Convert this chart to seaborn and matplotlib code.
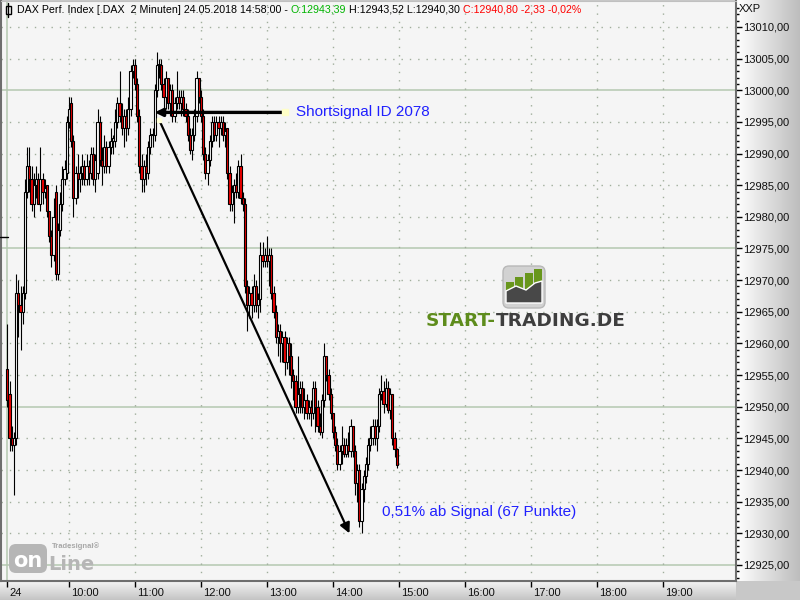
import matplotlib
matplotlib.use("Agg")
import numpy as np
import pandas as pd
import matplotlib.pyplot as plt
import seaborn as sns
from matplotlib.patches import Rectangle, FancyBboxPatch, Polygon
from matplotlib.colors import LinearSegmentedColormap
from matplotlib.transforms import ScaledTranslation

# ------------------------------------------------------------
# Daten: DAX 2-Minuten-Kerzen, 24.05.2018
# ------------------------------------------------------------
bar_open = [
    12956, 12952, 12945, 12944, 12945, 12968, 12966, 12965, 12968, 12984,
    12988, 12986, 12982, 12985, 12986, 12982, 12986, 12984, 12985, 12981,
    12977, 12974, 12984, 12971, 12978, 12982, 12986, 12987, 12995, 12998,
    12992, 12983, 12987, 12986, 12987, 12988, 12986, 12988, 12987, 12990,
    12986, 12987, 12995, 12989, 12988, 12991, 12988, 12991, 12992, 12992,
    12995, 12998, 12996, 12994, 12996, 12994, 12997, 13003, 13004, 13001,
    12996, 12988, 12986, 12988, 12987, 12991, 12993, 12993, 13000, 13004,
    13004, 13001, 12999, 13002, 12998, 13000, 12996, 12998, 12999, 12998,
    12999, 12997, 12996, 12993, 12990.5, 12993, 12996, 13002, 12999, 12996,
    12990, 12987, 12989, 12992, 12995, 12993, 12995, 12994, 12995, 12993,
    12994, 12987, 12982, 12984, 12985, 12984, 12988, 12983, 12982, 12969,
    12966, 12968, 12966, 12969, 12966, 12967, 12974, 12973, 12974, 12973,
    12974, 12968, 12965, 12961, 12962, 12960, 12961, 12957, 12960, 12958,
    12955, 12954, 12950, 12952, 12953, 12950, 12951, 12949, 12950, 12949,
    12953, 12950, 12947, 12946, 12951, 12958, 12955, 12952, 12949, 12946,
    12944, 12941, 12943, 12944, 12942.5, 12944, 12943, 12947, 12943, 12938,
    12940, 12932, 12937, 12939, 12941, 12944, 12945, 12947, 12945, 12947,
    12952, 12952.5, 12950.5, 12953, 12949.5, 12952, 12945, 12943.39,
]
bar_high = [
    12963, 12954, 12947, 12946, 12971, 12970, 12969, 12969, 12986, 12991,
    12991, 12988, 12987, 12988, 12987, 12991, 12987, 12986, 12985, 12981,
    12978, 12983, 12985, 12979, 12984, 12988, 12989, 12996, 12999, 12999,
    12993, 12988, 12990, 12988, 12990, 12989, 12990, 12989, 12991, 12991,
    12990, 12997, 12996, 12991, 12993, 12992, 12992, 12994, 12993, 12997,
    12999, 13003, 12998, 12997, 12997, 12999, 13004, 13005, 13005, 13002,
    12997, 12990, 12989, 12990, 12992, 12994, 12994, 13001, 13006, 13005,
    13005, 13002, 13003, 13002, 13001, 13001, 12999, 13003, 13000, 13000,
    13000, 12998, 12997, 12994, 12994, 12997, 13003, 13002, 13000, 12997,
    12991, 12990, 12993, 12996, 12996, 12996, 12996, 12996, 12996, 12995,
    12994, 12988, 12985, 12986, 12987, 12989, 12990, 12984, 12983, 12970,
    12969, 12969, 12971, 12970, 12968, 12976, 12976, 12975, 12977, 12975,
    12975, 12969, 12966, 12963, 12963, 12962, 12962, 12961, 12961, 12960,
    12956, 12955, 12958, 12954, 12954, 12953, 12952, 12951, 12951, 12954,
    12954, 12951, 12949, 12952, 12960, 12958, 12956, 12953, 12949, 12947,
    12945, 12944, 12947, 12945, 12945, 12946, 12948, 12947, 12944, 12941,
    12941, 12938, 12940, 12942, 12945, 12947, 12948, 12948, 12948, 12953,
    12955, 12954, 12954.5, 12954, 12953, 12952, 12946, 12943.52,
]
bar_low = [
    12950, 12943, 12943, 12936, 12944, 12961, 12959, 12963, 12967, 12983,
    12984, 12981, 12980, 12983, 12982, 12981, 12982, 12983, 12980, 12976,
    12972, 12973, 12970, 12970, 12977, 12981, 12985, 12986, 12994, 12991,
    12980, 12982, 12983, 12984, 12985, 12985, 12985, 12985, 12986, 12985,
    12984, 12986, 12988, 12985, 12987, 12987, 12987, 12990, 12990, 12991,
    12994, 12995, 12993, 12991, 12992, 12993, 12996, 13002, 13000, 12995,
    12987, 12984, 12984, 12985, 12986, 12990, 12991, 12992, 12999, 13002,
    13000, 12997, 12997, 12997, 12996, 12995, 12995, 12997, 12997, 12996,
    12996, 12995, 12992, 12990, 12989, 12992, 12995, 12998, 12995, 12989,
    12986, 12985, 12988, 12991, 12992, 12992, 12991, 12993, 12992, 12991,
    12986, 12981, 12981, 12979, 12983, 12983, 12982, 12981, 12968, 12962,
    12964, 12964, 12965, 12965, 12964, 12965, 12972, 12972, 12972, 12969,
    12967, 12964, 12960, 12958, 12957, 12957, 12955, 12956, 12955, 12953,
    12951, 12949, 12949, 12949, 12949, 12948, 12948, 12948, 12947, 12948,
    12946, 12946, 12945.5, 12945, 12950, 12954, 12951, 12948, 12945, 12943,
    12940, 12940, 12941, 12942, 12942, 12942, 12942, 12942, 12936, 12935,
    12931, 12930, 12935, 12938, 12940, 12943, 12944, 12944, 12943, 12946,
    12951, 12949, 12950, 12949, 12948, 12944, 12942, 12940.30,
]
bar_close = [
    12951, 12945, 12944, 12945, 12968, 12966, 12965, 12968, 12984, 12988,
    12986, 12982, 12985, 12986, 12982, 12986, 12984, 12984.5, 12981, 12977,
    12974, 12980, 12971, 12978, 12982, 12986, 12987.5, 12995, 12997, 12992,
    12983, 12987, 12986, 12987, 12988, 12986, 12988, 12987, 12990, 12986,
    12989, 12995, 12989, 12988, 12991, 12988, 12991, 12992, 12992.5, 12995,
    12998, 12996, 12994, 12996, 12994, 12997, 13003, 13004, 13001, 12996,
    12988, 12986, 12988, 12987, 12991, 12993, 12993, 13000, 13004, 13004,
    13001, 12999, 13002, 12998, 13000, 12996, 12998, 12999, 12998, 12999,
    12997, 12996, 12993, 12990.5, 12993, 12996, 13002, 12999, 12996, 12990,
    12987, 12989, 12992, 12995, 12993, 12995, 12994, 12995, 12993, 12993.5,
    12987, 12982, 12984, 12985, 12984, 12988, 12983, 12982, 12969, 12966,
    12968, 12966, 12969, 12966, 12967, 12974, 12973, 12974, 12973, 12974,
    12968, 12965, 12961, 12962, 12960, 12961, 12957, 12960, 12958, 12955,
    12954, 12950, 12952, 12953, 12950, 12951, 12949, 12950, 12949, 12953,
    12950, 12947, 12946, 12951, 12958, 12955, 12952, 12949, 12946, 12944,
    12941, 12943, 12944, 12942.5, 12944, 12943, 12947, 12943, 12938, 12940,
    12932, 12937, 12939, 12941, 12944, 12945, 12947, 12945, 12947, 12952,
    12952.5, 12950.5, 12953, 12949.5, 12952, 12945, 12943.4, 12940.80,
]
bar_time = pd.date_range("2018-05-24 09:04", periods=len(bar_close), freq="2min")

price_ticks = list(range(12925, 13011, 5))
hour_labels = ["10:00", "11:00", "12:00", "13:00", "14:00", "15:00",
               "16:00", "17:00", "18:00", "19:00"]
day_label = "24"

# Signal-Annotation
signal_time = "11:18"
signal_line_end = "13:16"
signal_text_time = "13:26"
signal_price = 12996.5
target_time = "14:15"
target_price = 12930.0
result_time = "14:45"
result_price = 12933.3
signal_text = "Shortsignal ID 2078"
result_text = "0,51% ab Signal (67 Punkte)"

title_parts = [
    ("DAX Perf. Index [.DAX  2 Minuten] 24.05.2018 14:58:00 - ", "black"),
    ("O:12943,39", "#00b400"),
    (" H:12943,52 L:12940,30 ", "black"),
    ("C:12940,80 -2,33 -0,02%", "#ff0000"),
]

# ------------------------------------------------------------
# Hilfsfunktionen
# ------------------------------------------------------------
day0 = pd.Timestamp("2018-05-24 09:00")


def to_min(t):
    if isinstance(t, str):
        t = pd.Timestamp("2018-05-24 " + t)
    return (t - day0).total_seconds() / 60.0


df = pd.DataFrame({"time": bar_time, "open": bar_open, "high": bar_high,
                   "low": bar_low, "close": bar_close})
df["x"] = [to_min(t) for t in df["time"]]

sns.set_theme(style="white")
plt.rcParams["font.family"] = ["Liberation Sans", "DejaVu Sans"]

W, H = 800, 600
fig = plt.figure(figsize=(8, 6), dpi=100)
fig.patch.set_facecolor("#c8c8c8")


def box(l, t, r, b):
    return [l / W, 1 - b / H, (r - l) / W, (b - t) / H]


# Hintergrund-Leisten (Preisachse rechts, Zeitachse unten)
ax_r = fig.add_axes(box(736, 0, 800, 581))
ax_r.imshow(np.linspace(0, 1, 256).reshape(1, -1), aspect="auto",
            cmap=LinearSegmentedColormap.from_list("r", ["#ffffff", "#bdbdbd"]))
ax_r.axis("off")
ax_b = fig.add_axes(box(0, 581, 736, 600))
ax_b.imshow(np.linspace(0, 1, 64).reshape(-1, 1), aspect="auto",
            cmap=LinearSegmentedColormap.from_list("b", ["#f4f4f4", "#c4c4c4"]))
ax_b.axis("off")

# ------------------------------------------------------------
# Hauptchart
# ------------------------------------------------------------
ax = fig.add_axes(box(1, 1, 736, 581))
ax.set_facecolor("#f5f5f5")
ax.set_xlim(-1.8, 666.4)
ax.set_ylim(12922.47, 13014.1)

for p in price_ticks:
    if p % 25 == 0:
        ax.axhline(p, color="#b4c8b0", lw=1.1, zorder=1)
    else:
        ax.axhline(p, color="#a0ae9c", lw=1, ls=(0, (1, 5)), zorder=1)
hour_pos = [to_min(h) for h in hour_labels]
for xm in hour_pos:
    ax.axvline(xm, color="#a0ae9c", lw=1, ls=(0, (1, 5)), zorder=1)
ax.axvline(df["x"].iloc[0], color="#b4c8b0", lw=1.1, zorder=1)

# Kerzen
up = df["close"] >= df["open"]
body_col = np.where(up, "white", "#ee0000")
body_h = (df["close"] - df["open"]).abs().clip(lower=0.15)
body_b = df[["open", "close"]].min(axis=1)
ax.vlines(df["x"], df["low"], df["high"], color="black", lw=0.8, zorder=3)
ax.bar(df["x"], body_h, bottom=body_b, width=2.0, color=body_col,
       edgecolor="black", linewidth=0.8, zorder=4)

# Preisachse rechts
ax.yaxis.tick_right()
ax.set_yticks(price_ticks)
ax.set_yticklabels([f"{p:.2f}".replace(".", ",") for p in price_ticks])
ax.set_yticks(range(12923, 13014), minor=True)
ax.tick_params(axis="y", which="major", length=4, width=1, color="black",
               pad=1, labelsize=8, labelcolor="#101010", right=True)
ax.tick_params(axis="y", which="minor", length=2, width=1, color="black", right=True)

# Zeitachse
ax.set_xticks([df["x"].iloc[0]] + hour_pos)
ax.set_xticklabels([day_label] + hour_labels)
ax.tick_params(axis="x", which="major", length=4, width=1, color="black",
               pad=1, labelsize=8, labelcolor="#101010", bottom=True)
for lab in ax.get_xticklabels():
    lab.set_horizontalalignment("left")
    lab.set_transform(lab.get_transform() + ScaledTranslation(1.5 / 72, 0, fig.dpi_scale_trans))

for side in ["left", "bottom", "right"]:
    ax.spines[side].set_color("#6e6e6e")
    ax.spines[side].set_linewidth(1.5)
ax.spines["top"].set_color("#c0c0c0")
ax.spines["top"].set_linewidth(0.8)

# Signal-Pfeile
diag_start = (to_min(signal_time) + 4, signal_price - 1.2)
ax.annotate("", xy=(to_min(signal_time), signal_price),
            xytext=(to_min(signal_line_end), signal_price),
            arrowprops=dict(arrowstyle="-|>", color="black", lw=2.4,
                            mutation_scale=11, shrinkA=0, shrinkB=0), zorder=6)
ax.annotate("", xy=(to_min(target_time), target_price), xytext=diag_start,
            arrowprops=dict(arrowstyle="-|>", color="black", lw=1.6,
                            mutation_scale=15, shrinkA=0, shrinkB=0), zorder=6)
ax.plot([to_min(signal_line_end)], [signal_price], "s", ms=5,
        color="#ffffc8", zorder=7)
ax.plot([diag_start[0]], [diag_start[1]], "s", ms=3, color="#ffffd8", zorder=7)
ax.text(to_min(signal_text_time), signal_price, signal_text,
        color="#2020ff", fontsize=11, va="center", ha="left", zorder=7)
ax.text(to_min(result_time), result_price, result_text,
        color="#2020ff", fontsize=11, va="center", ha="left", zorder=7)

# ------------------------------------------------------------
# Overlay in Pixelkoordinaten: Titel, Logos
# ------------------------------------------------------------
ov = fig.add_axes([0, 0, 1, 1], zorder=10)
ov.set_xlim(0, W)
ov.set_ylim(H, 0)
ov.axis("off")
ov.patch.set_alpha(0)

# Titel mit mehrfarbigen Teilen
ov.plot([8, 8], [3, 17], color="black", lw=1)
ov.add_patch(Rectangle((5.5, 6), 5, 8, facecolor="white", edgecolor="black", lw=1))
prev = None
for txt, col in title_parts:
    if prev is None:
        prev = ov.text(17, 10, txt, color=col, fontsize=7.7, va="center", ha="left")
    else:
        prev = ov.annotate(txt, xy=(1, 0.5), xycoords=prev, color=col,
                           fontsize=7.7, va="center", ha="left")
ov.text(739, 9, "XXP", fontsize=8, va="center", ha="left", color="#101010")
ov.plot([0, 8], [237, 237], color="black", lw=1)

# START-TRADING.DE Logo
ov.add_patch(FancyBboxPatch((503, 266), 42, 42,
                            boxstyle="round,pad=0,rounding_size=6",
                            facecolor="#d2d2d2", edgecolor="#b8b8b8", lw=1))
for x0, top in [(506, 282), (515, 277), (525, 273), (534, 269)]:
    ov.add_patch(Rectangle((x0, top), 8, 303 - top, facecolor="#68961c", edgecolor="none"))
ov.add_patch(Polygon([(506, 303), (506, 291), (516, 286), (526, 290),
                      (535, 283), (542, 281), (542, 303)],
                     closed=True, facecolor="#484848", edgecolor="white", lw=1))
t1 = ov.text(426, 321, "START-", color="#5e8c1c", fontsize=13.3,
             fontweight="bold", family="DejaVu Sans", va="center", ha="left")
ov.annotate("TRADING.DE", xy=(1, 0.5), xycoords=t1, color="#3e3e3e",
            fontsize=13.3, fontweight="bold", family="DejaVu Sans",
            va="center", ha="left")

# Tradesignal online Logo
ov.add_patch(FancyBboxPatch((9, 544), 38, 29,
                            boxstyle="round,pad=0,rounding_size=7",
                            facecolor="#b6b6b6", edgecolor="none"))
ov.text(28, 561, "on", color="white", fontsize=15, fontweight="bold",
        family="DejaVu Sans", va="center", ha="center")
ov.text(48, 564, "Line", color="#b6b6b6", fontsize=14, fontweight="bold",
        family="DejaVu Sans", va="center", ha="left")
ov.text(52, 546, "Tradesignal®", color="#a8a8a8", fontsize=5.5,
        fontweight="bold", va="center", ha="left")

fig.savefig("out.png", dpi=100)
